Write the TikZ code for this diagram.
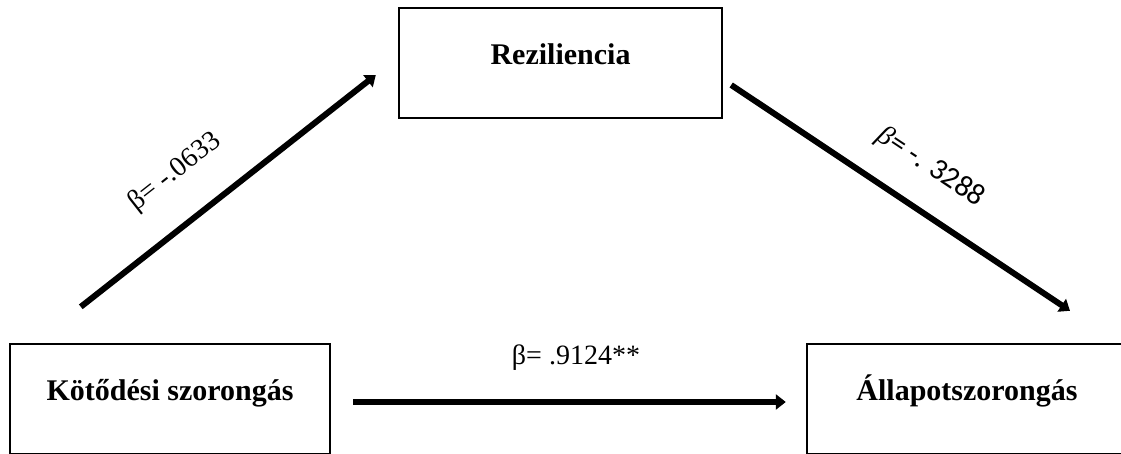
\documentclass[tikz,border=0pt]{standalone}
\usepackage{fontspec}
\setmainfont{Liberation Serif}
\newfontfamily\calfont{Carlito}
\usetikzlibrary{arrows.meta}
\tikzset{
  % Variable box: fixed size, text sits a little high
  var/.style={
    rectangle, draw=black, line width=1.2pt,
    minimum width=160pt, minimum height=55pt,
    text height=8pt, text depth=6pt,
    align=center, font=\fontsize{15}{18}\selectfont\bfseries
  },
  % Path arrow
  arr/.style={
    -{Triangle[length=5pt,width=7.5pt]},
    line width=3pt, color=black
  },
  % Coefficient label
  lbl/.style={font=\fontsize{14}{17}\selectfont, inner sep=0pt}
}

\begin{document}
\begin{tikzpicture}[x=0.5pt, y=-0.5pt]
  \clip (0,0) rectangle (1121,454);
  % Mediation triangle
  \node[var, minimum width=161.5pt] (rez) at (560.5,63) {Reziliencia};
  \node[var] (kot) at (170,399) {Kötődési szorongás};
  \node[var] (all) at (967,399) {Állapotszorongás};

  % Arrow ends, kept clear of the boxes
  \coordinate (kotout) at ([shift={(72,-36)}]kot.north west);
  \coordinate (rezin)  at ([shift={(-22,12)}]rez.west);
  \coordinate (rezout) at ([shift={(8,22)}]rez.east);
  \coordinate (allin)  at ([shift={(103,-32)}]all.north);
  \coordinate (kotright) at ([shift={(22,3)}]kot.east);
  \coordinate (allleft)  at ([shift={(-20,3)}]all.west);

  \draw[arr] (kotout) -- (rezin)
    node[lbl, sloped, pos=0.42, above=16pt] {β= -.0633};
  \draw[arr] (rezout) -- (allin)
    node[lbl, sloped, pos=0.52, above=13pt] {\textit{β}{\calfont\fontsize{15}{18}\selectfont= -. 3288}};
  \draw[arr] (kotright) -- (allleft)
    node[lbl, pos=0.515, above=14.5pt] {β= .9124**};
\end{tikzpicture}
\end{document}
